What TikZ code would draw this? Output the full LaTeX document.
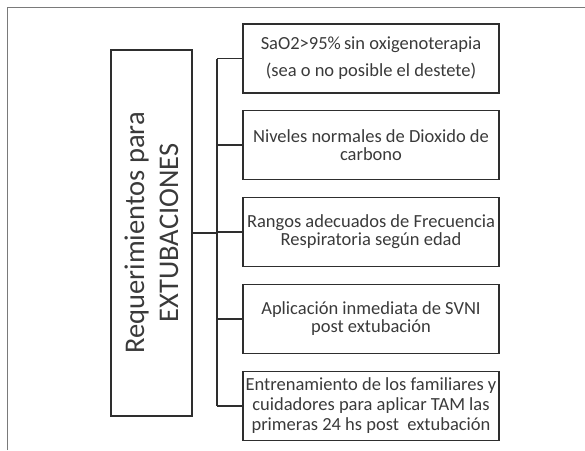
\documentclass[tikz,border=0pt]{standalone}
\usepackage{fontspec}
\setmainfont{Carlito}
\definecolor{ink}{HTML}{2E2E2E}
\definecolor{txt}{HTML}{3A3A3A}
\definecolor{framegray}{HTML}{7A7A7A}
\begin{document}
\begin{tikzpicture}[x=1pt,y=-1pt,
  reqbox/.style={draw=ink, line width=1.4pt, minimum width=256pt, minimum height=69pt,
    inner sep=0pt, align=center, text=txt},
  mainbox/.style={draw=ink, line width=1.4pt, rotate=90, minimum width=366pt,
    minimum height=81pt, inner sep=0pt, align=center, text=txt,
    font=\fontsize{28.5}{34}\selectfont},
  link/.style={draw=ink, line width=1.4pt}]
\useasboundingbox (0,0) rectangle (585,450);
\draw[framegray, line width=0.9pt] (7,450) -- (7,7) -- (585,7);
% main box (rotated: its south side faces right)
\node[mainbox] (m) at (151.5,233) {Requerimientos para\\EXTUBACIONES};
% requirement boxes
\node[reqbox, font=\fontsize{18.5}{27}\selectfont] (b1) at (371,58.5)
  {SaO2>95\%\,sin oxigenoterapia\\(sea o no posible el destete)};
\node[reqbox, font=\fontsize{18.5}{18}\selectfont] (b2) at (371,145)
  {Niveles normales de Dioxido de\\carbono};
\node[reqbox, font=\fontsize{18.5}{18}\selectfont] (b3) at (371,232)
  {Rangos adecuados de Frecuencia\\Respiratoria según edad};
\node[reqbox, font=\fontsize{18.5}{18}\selectfont] (b4) at (371,319)
  {Aplicación inmediata de SVNI\\post extubación};
\node[reqbox, font=\fontsize{18.5}{20}\selectfont] (b5) at (371,406)
  {Entrenamiento de los familiares y\\cuidadores para aplicar TAM las\\primeras 24 hs post\ \ extubación};
% connectors
\coordinate (tr) at (217,0);
\draw[link] (m.south) -- (m.south -| tr);
\draw[link] (b1.west -| tr) -- (b5.west -| tr);
\foreach \i in {1,...,5} {\draw[link] (b\i.west -| tr) -- (b\i.west);}
\end{tikzpicture}
\end{document}
